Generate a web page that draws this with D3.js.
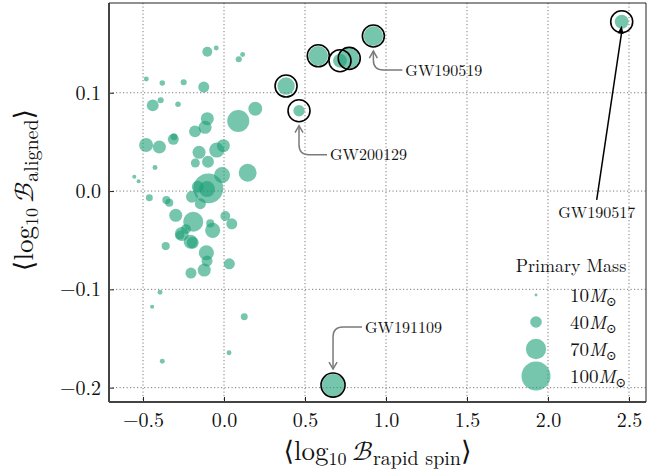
<!DOCTYPE html>
<html><head><meta charset="utf-8">
<script src="https://cdn.jsdelivr.net/npm/d3@7"></script>
<style>body{margin:0;background:#fff}svg{display:block}</style>
</head><body>
<svg id="c" width="662" height="472"></svg>
<script>
// ---- data ----
const eventX = [-0.103,-0.048,0.115,0.091,-0.480,-0.381,-0.249,-0.125,-0.440,-0.391,-0.284,-0.103,-0.117,-0.179,0.088,0.193,-0.481,-0.399,-0.313,-0.309,-0.154,-0.045,-0.004,-0.099,-0.177,-0.426,0.146,-0.012,-0.554,-0.527,-0.097,-0.105,-0.162,-0.198,-0.146,-0.461,-0.356,-0.338,-0.298,-0.190,0.008,0.048,-0.085,-0.070,-0.235,-0.261,-0.272,-0.206,-0.193,-0.360,-0.109,-0.105,-0.122,-0.204,0.033,-0.395,-0.444,0.125,0.031,-0.381];
const eventY = [0.1417,0.1455,0.139,0.134,0.114,0.110,0.1106,0.1058,0.0872,0.0923,0.0882,0.0736,0.0648,0.0607,0.0712,0.0837,0.0468,0.0448,0.0526,0.0552,0.0394,0.0417,0.0461,0.0298,0.0285,0.0239,0.0186,0.0163,0.0145,0.0099,0.0027,0.002,0.0044,-0.0058,-0.0129,-0.0068,-0.0092,-0.0119,-0.0247,-0.0312,-0.0254,-0.0333,-0.0329,-0.040,-0.0387,-0.0437,-0.0448,-0.0516,-0.0526,-0.056,-0.0628,-0.0712,-0.0804,-0.0834,-0.074,-0.103,-0.1177,-0.1279,-0.1645,-0.1732];
const eventMass = [34,17,17,21,17,19,21,38,41,21,19,45,45,41,76,48,48,45,38,24,45,52,45,41,31,17,62,55,14,14,103,55,41,41,38,24,28,28,45,69,34,38,28,52,34,48,31,48,41,28,52,38,45,38,38,17,14,24,17,17];

const notableX = [0.922,0.582,0.716,0.773,0.383,0.463,2.455,0.673];
const notableY = [0.1577,0.1376,0.1326,0.135,0.1068,0.0817,0.1722,-0.1974];
const notableMass = [67,67,48,69,60,39,48,76];

const annotNames = ["GW190519","GW200129","GW190517","GW191109"];
const annotIndex = [0,5,6,7];

const xTicks = [-0.5,0.0,0.5,1.0,1.5,2.0,2.5];
const yTicks = [-0.2,-0.1,0.0,0.1];
const legendMasses = [10,40,70,100];

// ---- layout ----
const svg = d3.select("#c");
const L=109,R=646,T=3,B=402;
const x = d3.scaleLinear().domain([-0.71,2.605]).range([L,R]);
const y = d3.scaleLinear().domain([-0.2146,0.1913]).range([B,T]);
const r = d3.scaleLinear().domain([0,100]).range([0,14.5]);
const FILL="#1b9e77", OP=0.6;
const SERIF="'Latin Modern Roman','CMU Serif','DejaVu Serif',serif";
const CAL="'Latin Modern Math','FreeSerif','DejaVu Serif',serif";

// grid
const g = svg.append("g");
g.selectAll(".gx").data(xTicks).join("line")
  .attr("x1",d=>x(d)).attr("x2",d=>x(d)).attr("y1",T).attr("y2",B)
  .attr("stroke","#7a7a7a").attr("stroke-width",1).attr("stroke-dasharray","1.2,2.3");
g.selectAll(".gy").data(yTicks).join("line")
  .attr("y1",d=>y(d)).attr("y2",d=>y(d)).attr("x1",L).attr("x2",R)
  .attr("stroke","#7a7a7a").attr("stroke-width",1).attr("stroke-dasharray","1.2,2.3");

// axes (inward ticks)
const fmt = d=>d3.format(".1f")(d).replace("-","\u2212");
const xa = svg.append("g").attr("transform",`translate(0,${B})`)
  .call(d3.axisBottom(x).tickValues(xTicks).tickSize(-5).tickPadding(8).tickFormat(fmt));
const ya = svg.append("g").attr("transform",`translate(${L},0)`)
  .call(d3.axisLeft(y).tickValues(yTicks).tickSize(-5).tickPadding(8).tickFormat(fmt));
[xa,ya].forEach(a=>{
  a.select(".domain").remove();
  a.selectAll(".tick line").attr("stroke","#222").attr("stroke-width",1);
  a.selectAll(".tick text").attr("font-family",SERIF).attr("font-size",20).attr("fill","#111");
});
xa.selectAll(".tick text").attr("dy","0.85em");

// points
const pts = svg.append("g");
pts.selectAll("circle.ev").data(eventX.map((v,i)=>i)).join("circle")
  .attr("cx",i=>x(eventX[i])).attr("cy",i=>y(eventY[i])).attr("r",i=>r(eventMass[i]))
  .attr("fill",FILL).attr("fill-opacity",OP);
pts.selectAll("circle.nt").data(notableX.map((v,i)=>i)).join("circle")
  .attr("cx",i=>x(notableX[i])).attr("cy",i=>y(notableY[i])).attr("r",i=>r(notableMass[i]))
  .attr("fill",FILL).attr("fill-opacity",OP);
const ringR = i=>Math.max(11, r(notableMass[i])+1);
pts.selectAll("circle.ring").data(notableX.map((v,i)=>i)).join("circle")
  .attr("cx",i=>x(notableX[i])).attr("cy",i=>y(notableY[i])).attr("r",ringR)
  .attr("fill","none").attr("stroke","#000").attr("stroke-width",1.6);

// spines
svg.append("line").attr("x1",L).attr("x2",L).attr("y1",T).attr("y2",B).attr("stroke","#444").attr("stroke-width",2);
svg.append("line").attr("x1",L).attr("x2",R).attr("y1",B).attr("y2",B).attr("stroke","#444").attr("stroke-width",2);
svg.append("line").attr("x1",L).attr("x2",R).attr("y1",T).attr("y2",T).attr("stroke","#222").attr("stroke-width",1);
svg.append("line").attr("x1",R).attr("x2",R).attr("y1",T).attr("y2",B).attr("stroke","#222").attr("stroke-width",1);

// annotations
const ann = svg.append("g");
const GRAY="#7a7a7a";
function chevron(tx,ty,dir){ // dir: -1 up, +1 down
  const a=7, w=4;
  return `M${tx-w},${ty-dir*a} L${tx},${ty} L${tx+w},${ty-dir*a}`;
}
const annOffsets = {"GW190519":[32,34],"GW200129":[31,44],"GW191109":[32,-58],"GW190517":[-25,190]};
annotNames.forEach((name,k)=>{
  const i=annotIndex[k];
  const px=x(notableX[i]), py=y(notableY[i]);
  const [dx,dy]=annOffsets[name];
  if(name==="GW190517"){
    const tx=px+dx, ty=py+dy;
    ann.append("text").attr("x",tx).attr("y",ty+6).attr("text-anchor","middle")
      .attr("font-family",SERIF).attr("font-size",16).attr("fill","#111").text(name);
    const x0=tx, y0=ty-12, x1=px, y1=py+4;
    ann.append("line").attr("x1",x0).attr("y1",y0).attr("x2",x1).attr("y2",y1+6).attr("stroke","#000").attr("stroke-width",1.5);
    const ang=Math.atan2(y1-y0,x1-x0), hl=8, hw=3;
    const bx=x1-hl*Math.cos(ang), by=y1-hl*Math.sin(ang);
    ann.append("path").attr("d",`M${x1},${y1} L${bx+hw*Math.sin(ang)},${by-hw*Math.cos(ang)} L${bx-hw*Math.sin(ang)},${by+hw*Math.cos(ang)}Z`).attr("fill","#000");
  } else {
    const tx=px+dx, ty=py+dy;
    ann.append("text").attr("x",tx).attr("y",ty+5.5)
      .attr("font-family",SERIF).attr("font-size",16).attr("fill","#111").text(name);
    const dir = dy>0 ? -1 : 1;
    const tipY = py - dir*(ringR(i)+4);
    const rad=10;
    const d=`M${tx-3},${ty} H${px+rad} Q${px},${ty} ${px},${ty+dir*rad} V${tipY}`;
    ann.append("path").attr("d",d).attr("fill","none").attr("stroke",GRAY).attr("stroke-width",1.5);
    ann.append("path").attr("d",chevron(px,tipY,dir)).attr("fill","none").attr("stroke",GRAY).attr("stroke-width",1.5);
  }
});

// legend
const lg = svg.append("g");
const legY = d3.scalePoint().domain(legendMasses).range([295,376]);
lg.append("text").attr("x",571).attr("y",272).attr("text-anchor","middle")
  .attr("font-family",SERIF).attr("font-size",18).attr("fill","#111").text("Primary Mass");
lg.selectAll("circle").data(legendMasses).join("circle")
  .attr("cx",536).attr("cy",d=>legY(d)).attr("r",d=>r(d)).attr("fill",FILL).attr("fill-opacity",OP);
legendMasses.forEach(m=>{
  const t=lg.append("text").attr("x",570).attr("y",legY(m)+6.5).attr("font-family",SERIF).attr("font-size",19).attr("fill","#111");
  t.append("tspan").text(m);
  t.append("tspan").attr("font-style","italic").text("M");
  t.append("tspan").attr("font-size",13).attr("dy",4).text("\u2299");
});

// axis labels
function axisLabel(sel, sub){
  sel.append("tspan").text("\u27E8log");
  sel.append("tspan").attr("font-size",18).attr("dy",5).text("10");
  sel.append("tspan").attr("dy",-5).text("\u2009");
  sel.append("tspan").attr("font-family",CAL).text("\u212C");
  sel.append("tspan").attr("font-size",20).attr("dy",5).text(sub);
  sel.append("tspan").attr("dy",-5).text("\u27E9");
}
const xl = svg.append("text").attr("x",(L+R)/2).attr("y",460).attr("text-anchor","middle")
  .attr("font-family",SERIF).attr("font-size",27).attr("fill","#111");
axisLabel(xl,"rapid spin");
const yl = svg.append("text").attr("transform",`translate(33,190) rotate(-90)`).attr("text-anchor","middle")
  .attr("font-family",SERIF).attr("font-size",27).attr("fill","#111");
axisLabel(yl,"aligned");
</script>
</body></html>
